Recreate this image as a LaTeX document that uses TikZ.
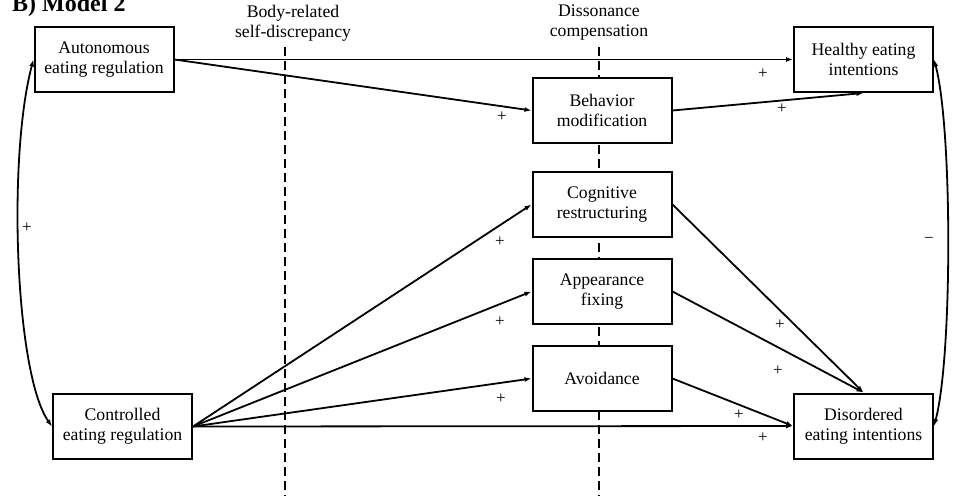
\documentclass[tikz,border=0pt]{standalone}
\usepackage{fontspec}
\setmainfont{Liberation Serif}
\usetikzlibrary{arrows.meta}
\tikzset{
  box/.style={draw, line width=2pt, fill=white, minimum width=139pt,
    minimum height=65pt, align=center, inner sep=2pt,
    font=\fontsize{17.7}{20}\selectfont},
  head/.style={align=center, inner sep=0pt, font=\fontsize{17.7}{20}\selectfont},
  plus/.style={inner sep=0pt, font=\fontsize{17}{19}\selectfont},
  arr/.style={-{Latex[length=7pt,width=5pt]}, line width=1.8pt},
  both/.style={{Latex[length=7pt,width=5pt]}-{Latex[length=7pt,width=5pt]}, line width=1.8pt},
  guide/.style={line width=2pt, dash pattern=on 9pt off 5pt},
}
\begin{document}
\begin{tikzpicture}[x=1pt,y=1pt]
  \useasboundingbox (0,0) rectangle (978,-496);
  \clip (0,0) rectangle (978,-496);
  % dashed guide lines
  \draw[guide] (285,-47) -- (285,-496);
  \draw[guide] (599,-47) -- (599,-496);
  \draw
    (12,-11) node[anchor=base west, inner sep=0pt, font=\bfseries\fontsize{24}{26}\selectfont] (title){B) Model 2}
    (293,-23) node[head] (bsd){Body-related\\self-discrepancy}
    (599,-23) node[head] (dc){Dissonance\\compensation}
    (104,-59.5) node[box] (aut){Autonomous\\eating regulation}
    (122.5,-426.5) node[box] (ctrl){Controlled\\eating regulation}
    (602,-110.5) node[box] (beh){Behavior\\modification}
    (602,-204.5) node[box] (cog){Cognitive\\restructuring}
    (602,-291.5) node[box] (app){Appearance\\fixing}
    (602,-378.5) node[box] (avo){Avoidance}
    (863.5,-59.5) node[box] (hea){Healthy eating\\intentions}
    (863.5,-426) node[box] (dis){Disordered\\eating intentions};
  \begin{scope}[arr]
    \draw (aut.east) to (hea.west);
    \draw (aut.east) to (beh.west);
    \draw (beh.east) to (hea.south);
    \draw (ctrl.east) to (cog.west);
    \draw (ctrl.east) to (app.west);
    \draw (ctrl.east) to (avo.west);
    \draw (ctrl.east) to (dis.west);
    \draw (cog.east) to (dis.north);
    \draw (app.east) to (dis.north);
    \draw (avo.east) to (dis.west);
  \end{scope}
  \begin{scope}[both]
    \draw (aut.west) to[out=255, in=125, out looseness=0.7, in looseness=0.45] (ctrl.west);
    \draw (hea.east) to[out=-75, in=75, looseness=0.5] (dis.east);
  \end{scope}
  \draw
    (763,-74) node[plus] (p1){+}
    (502,-117) node[plus] (p2){+}
    (782,-109) node[plus] (p3){+}
    (500,-242) node[plus] (p4){+}
    (500,-322) node[plus] (p5){+}
    (501,-399) node[plus] (p6){+}
    (780,-325) node[plus] (p7){+}
    (778,-371) node[plus] (p8){+}
    (739,-415) node[plus] (p9){+}
    (763,-438) node[plus] (p10){+}
    (27,-228) node[plus] (p11){+}
    (929,-240) node[plus] (m1){−};
\end{tikzpicture}
\end{document}
